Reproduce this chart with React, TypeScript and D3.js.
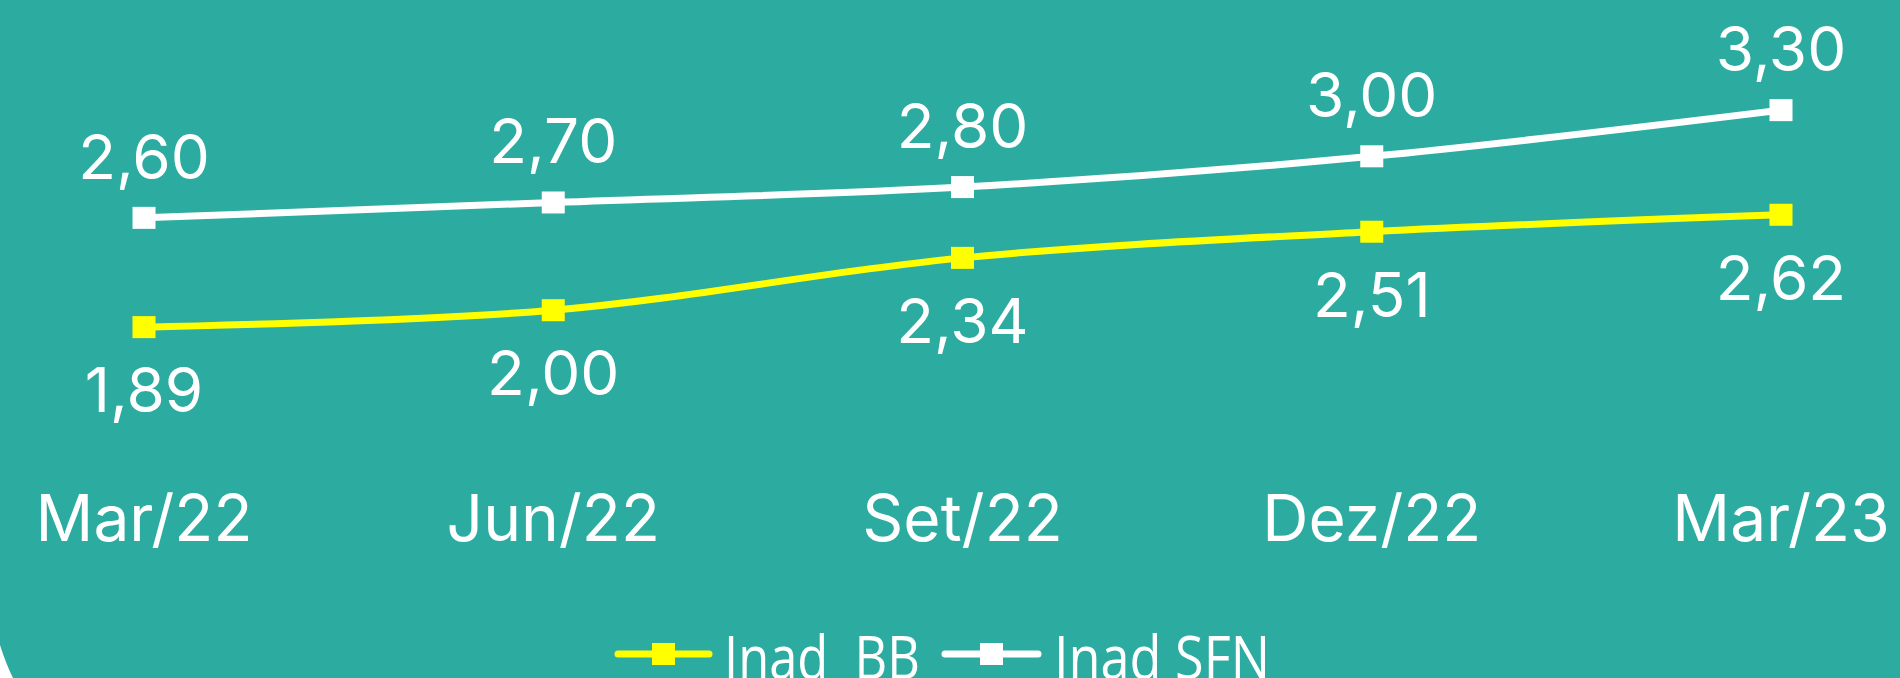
import { useRef, useEffect } from 'react';
import * as d3 from 'd3';

const categories = ['Mar/22', 'Jun/22', 'Set/22', 'Dez/22', 'Mar/23'];
const inadBB = [1.89, 2.0, 2.34, 2.51, 2.62];
const inadSFN = [2.6, 2.7, 2.8, 3.0, 3.3];
const seriesNames = ['Inad  BB', 'Inad SFN'];

const fmt = (v: number) => v.toFixed(2).replace('.', ',');

export default function App() {
  const ref = useRef<SVGSVGElement>(null);

  useEffect(() => {
    if (!ref.current) return;
    const width = 1900;
    const height = 678;
    const teal = '#2CACA0';
    const yellow = '#FFFF00';
    const font = 'Inter, "Noto Sans", sans-serif';

    const svg = d3.select(ref.current);
    svg.selectAll('*').remove();

    svg.append('rect').attr('width', width).attr('height', height).attr('fill', teal);
    // white cut of the rounded panel at bottom-left
    svg.append('path').attr('d', `M0,645 Q6,664 13,${height} L0,${height} Z`).attr('fill', 'white');

    const x = d3.scalePoint<string>().domain(categories).range([144, 1781]);
    const y = d3.scaleLinear().domain([0, 4]).range([618, 2.4]);

    const line = d3
      .line<number>()
      .x((d, i) => x(categories[i]) as number)
      .y((d) => y(d))
      .curve(d3.curveCatmullRom.alpha(0.5));

    const series = [
      { values: inadSFN, color: 'white', above: true },
      { values: inadBB, color: yellow, above: false },
    ];

    series.forEach((s) => {
      svg
        .append('path')
        .attr('d', line(s.values))
        .attr('fill', 'none')
        .attr('stroke', s.color)
        .attr('stroke-width', 7);

      svg
        .selectAll(null)
        .data(s.values)
        .enter()
        .append('rect')
        .attr('x', (d, i) => (x(categories[i]) as number) - 11.5)
        .attr('y', (d) => y(d) - 11)
        .attr('width', 23)
        .attr('height', 22)
        .attr('fill', s.color);

      svg
        .selectAll(null)
        .data(s.values)
        .enter()
        .append('text')
        .attr('x', (d, i) => x(categories[i]) as number)
        .attr('y', (d) => y(d) + (s.above ? -39 : 85))
        .attr('text-anchor', 'middle')
        .style('font-family', font)
        .style('font-size', '62px')
        .style('fill', 'white')
        .text((d) => fmt(d));
    });

    const axisLabels = svg
      .selectAll(null)
      .data(categories)
      .enter()
      .append('text')
      .attr('x', (d) => x(d) as number)
      .attr('y', 541)
      .attr('text-anchor', 'middle')
      .style('font-family', font)
      .style('font-size', '64px')
      .style('fill', 'white')
      .text((d) => d);

    // keep the last label inside the frame
    axisLabels.each(function () {
      const el = this as SVGTextElement;
      const bb = el.getBBox();
      if (bb.x + bb.width > width - 10) {
        d3.select(el).attr('x', +el.getAttribute('x')! - (bb.x + bb.width - (width - 10)));
      }
    });

    // legend
    const legend = [
      { name: seriesNames[0], color: yellow, x1: 618, x2: 709, tx: 724, tw: 196 },
      { name: seriesNames[1], color: 'white', x1: 945, x2: 1038, tx: 1054, tw: 216 },
    ];
    legend.forEach((l) => {
      svg
        .append('line')
        .attr('x1', l.x1)
        .attr('x2', l.x2)
        .attr('y1', 654)
        .attr('y2', 654)
        .attr('stroke', l.color)
        .attr('stroke-width', 7)
        .attr('stroke-linecap', 'round');
      svg
        .append('rect')
        .attr('x', (l.x1 + l.x2) / 2 - 11.5)
        .attr('y', 643)
        .attr('width', 23)
        .attr('height', 22)
        .attr('fill', l.color);
      svg
        .append('text')
        .attr('x', l.tx)
        .attr('y', 679)
        .attr('textLength', l.tw)
        .attr('lengthAdjust', 'spacingAndGlyphs')
        .style('font-family', '"Open Sans", sans-serif')
        .style('font-size', '60px')
        .style('fill', 'white')
        .style('white-space', 'pre')
        .text(l.name);
    });
  }, []);

  return (
    <svg
      ref={ref}
      width={1900}
      height={678}
      style={{ position: 'absolute', left: 0, top: 0, display: 'block' }}
    />
  );
}
